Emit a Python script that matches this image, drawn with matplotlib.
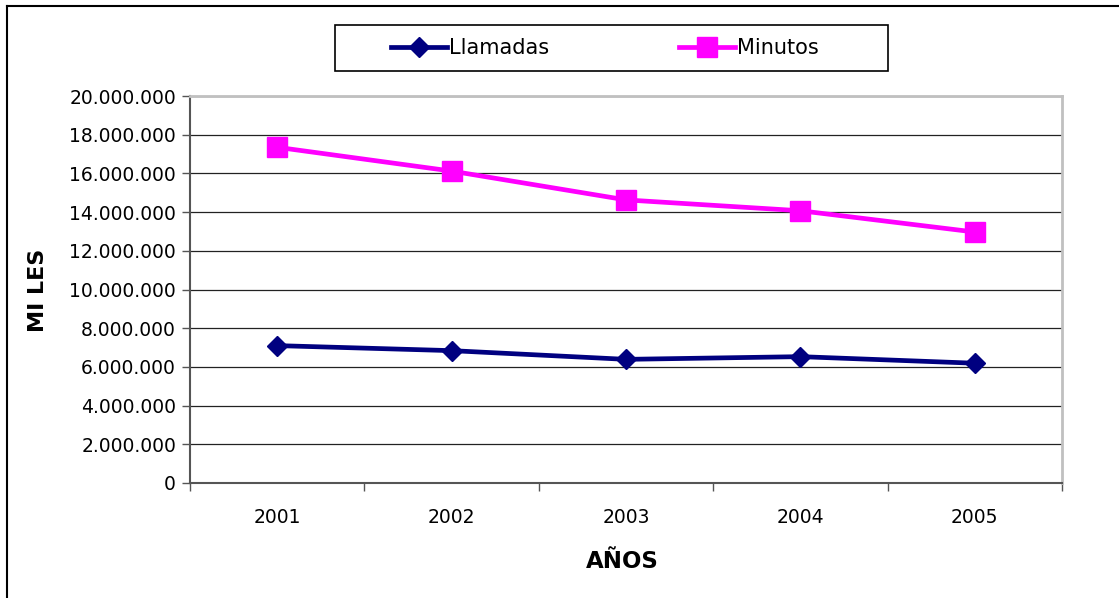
import matplotlib.pyplot as plt
from matplotlib.lines import Line2D
from matplotlib.patches import Rectangle
from matplotlib.ticker import FuncFormatter, FixedLocator, NullFormatter

years = ["2001", "2002", "2003", "2004", "2005"]
llamadas = [7100000, 6840000, 6390000, 6530000, 6190000]
minutos = [17350000, 16120000, 14630000, 14070000, 12970000]

W, H = 1119, 598
fig = plt.figure(figsize=(W / 100, H / 100), dpi=100)
ax = fig.add_axes([190 / W, 1 - 483 / H, (1062 - 190) / W, (483 - 96) / H])

x = range(len(years))
ax.plot(x, llamadas, color="#000080", lw=3.4, marker="D", ms=10.5,
        label="Llamadas", zorder=3)
ax.plot(x, minutos, color="#FF00FF", lw=3.4, marker="s", ms=14,
        label="Minutos", zorder=3)

ax.set_xlim(-0.5, len(years) - 0.5)
ax.set_ylim(0, 20000000)
ax.set_yticks(range(0, 20000001, 2000000))
ax.yaxis.set_major_formatter(FuncFormatter(lambda v, p: f"{int(v):,}".replace(",", ".")))
ax.set_xticks(list(x))
ax.set_xticklabels(years)
ax.tick_params(axis="x", which="major", length=0, pad=18, labelsize=13.5)
ax.xaxis.set_minor_locator(FixedLocator([i - 0.5 for i in range(len(years) + 1)]))
ax.xaxis.set_minor_formatter(NullFormatter())
ax.tick_params(axis="x", which="minor", length=6, color="#555555", width=1)
ax.tick_params(axis="y", length=6, color="#555555", width=1, labelsize=13.5, pad=4)

ax.grid(axis="y", color="#222222", lw=0.9, zorder=1)
ax.set_axisbelow(True)
for side in ("left", "bottom"):
    ax.spines[side].set_color("#555555")
    ax.spines[side].set_linewidth(1.5)
for side in ("top", "right"):
    ax.spines[side].set_color("#c0c0c0")
    ax.spines[side].set_linewidth(2)

fig.text(38 / W, 1 - 290 / H, "MI LES", rotation=90, ha="center", va="center",
         fontsize=16, fontweight="bold")
fig.text(622 / W, 1 - 561 / H, "AÑOS", ha="center", va="center",
         fontsize=16.5, fontweight="bold")

# legend box drawn separately, entries placed inside it
fig.patches.append(Rectangle((335 / W, 1 - 71 / H), 553 / W, 46 / H,
                             transform=fig.transFigure, fill=False,
                             edgecolor="black", lw=1.2))
fig.legend(loc="center", bbox_to_anchor=(605 / W, 1 - 48 / H), ncol=2,
           fontsize=15, frameon=False, handlelength=2.7,
           handletextpad=0.1, columnspacing=6.2, borderpad=0.3)

# outer chart border
border = dict(color="black", lw=1.5, transform=fig.transFigure)
fig.lines.append(Line2D([6.5 / W, 6.5 / W], [0, 1 - 5.5 / H], **border))
fig.lines.append(Line2D([6.5 / W, 1118 / W], [1 - 5.5 / H, 1 - 5.5 / H], **border))

fig.savefig("out.png", dpi=100)
